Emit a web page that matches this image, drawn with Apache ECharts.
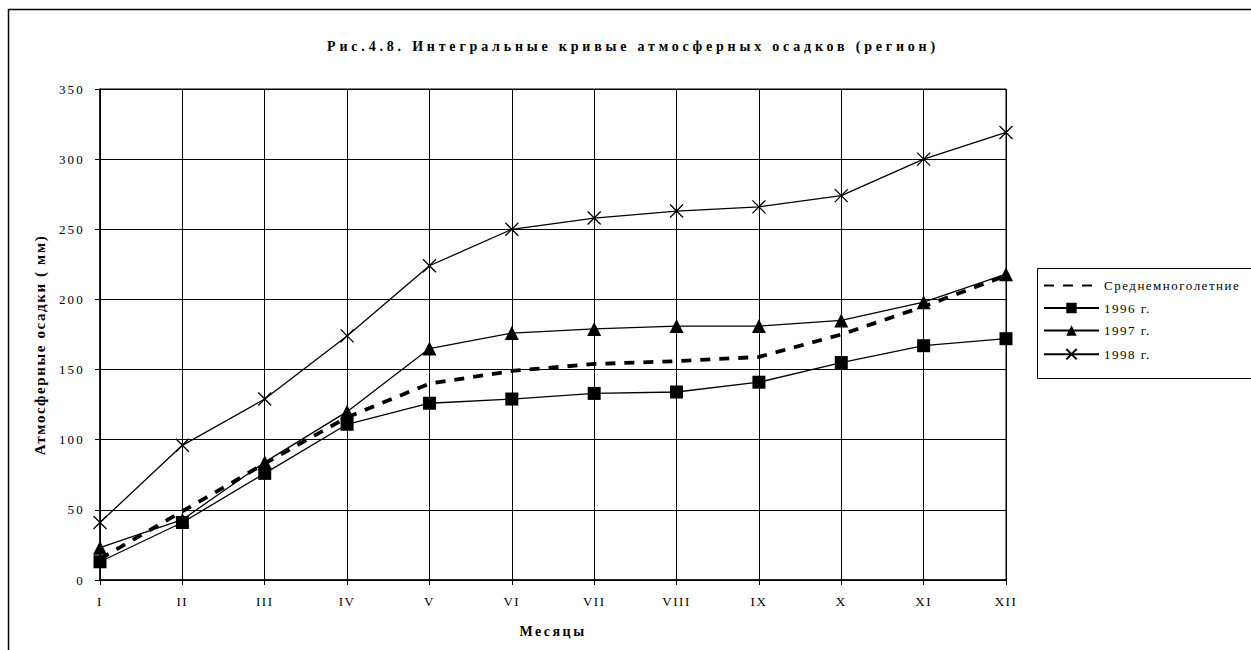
<!DOCTYPE html>
<html>
<head>
<meta charset="utf-8">
<script src="https://cdn.jsdelivr.net/npm/echarts@6/dist/echarts.min.js"></script>
<style>
html,body{margin:0;padding:0;background:#fff;}
#chart{width:1251px;height:650px;}
</style>
</head>
<body>
<div id="chart"></div>
<script>
const months = ['I','II','III','IV','V','VI','VII','VIII','IX','X','XI','XII'];
const avgName = 'Среднемноголетние';
const avgValues = [15, 49, 83, 116, 140, 149, 154, 156, 159, 175, 195, 217];
const s1996Name = '1996 г.';
const s1996 = [13, 41, 76, 111, 126, 129, 133, 134, 141, 155, 167, 172];
const s1997Name = '1997 г.';
const s1997 = [23, 43, 84, 120, 165, 176, 179, 181, 181, 185, 198, 218];
const s1998Name = '1998 г.';
const s1998 = [41, 96, 129, 174, 224, 250, 258, 263, 266, 274, 300, 319];
const titleText = 'Рис.4.8. Интегральные кривые атмосферных осадков (регион)';
const yName = 'Атмосферные осадки ( мм)';
const xName = 'Месяцы';

const FONT = '"Liberation Serif", "Times New Roman", serif';
const chart = echarts.init(document.getElementById('chart'), null, {renderer: 'svg'});

const crossPath = 'path://M0,0L10,10M10,0L0,10';

chart.setOption({
  animation: false,
  backgroundColor: '#fff',
  textStyle: {fontFamily: FONT, color: '#000'},
  graphic: [
    {type: 'rect', shape: {x: 8.5, y: 9.5, width: 1400, height: 800}, style: {fill: 'none', stroke: '#000', lineWidth: 1.5}, silent: true, z: -10},
    {type: 'rect', shape: {x: 1037.5, y: 268.5, width: 300, height: 110}, style: {fill: '#fff', stroke: '#000', lineWidth: 1}, silent: true, z: -5},
    {type: 'text', x: 633, y: 46, style: {text: titleText, fontFamily: FONT, fontSize: 14, fontWeight: 'bold', fill: '#000', align: 'center', verticalAlign: 'middle'}},
    {type: 'text', x: 553, y: 631, style: {text: xName, fontFamily: FONT, fontSize: 14, fontWeight: 'bold', fill: '#000', align: 'center', verticalAlign: 'middle'}},
    {type: 'text', x: 40, y: 345, rotation: Math.PI / 2, style: {text: yName, fontFamily: FONT, fontSize: 15, fontWeight: 'bold', fill: '#000', align: 'center', verticalAlign: 'middle'}}
  ],
  legend: {
    orient: 'vertical',
    left: 1043,
    top: 279,
    padding: 0,
    itemWidth: 55,
    itemHeight: 13,
    itemGap: 9.5,
    textStyle: {fontFamily: FONT, fontSize: 13, color: '#000'},
    data: [{name: avgName, itemStyle: {opacity: 0}}, s1996Name, s1997Name, s1998Name]
  },
  grid: {left: 100, right: 245, top: 89, bottom: 70, show: true, borderColor: '#000', borderWidth: 1},
  xAxis: {
    type: 'category',
    data: months,
    boundaryGap: false,
    axisLine: {lineStyle: {color: '#000', width: 1.5}},
    axisTick: {show: true, alignWithLabel: true, length: 5, lineStyle: {color: '#000'}},
    axisLabel: {fontFamily: FONT, fontSize: 13, color: '#000', margin: 15},
    splitLine: {show: true, lineStyle: {color: '#000', width: 1}}
  },
  yAxis: {
    type: 'value',
    min: 0, max: 350, interval: 50,
    axisLine: {show: true, lineStyle: {color: '#000', width: 1.5}},
    axisTick: {show: true, length: 5, lineStyle: {color: '#000'}},
    axisLabel: {fontFamily: FONT, fontSize: 13, color: '#000', margin: 15},
    splitLine: {show: true, lineStyle: {color: '#000', width: 1}}
  },
  series: [
    {name: s1996Name, type: 'line', data: s1996, symbol: 'rect', symbolSize: 13, z: 3,
     lineStyle: {color: '#000', width: 1.3}, itemStyle: {color: '#000'}},
    {name: s1997Name, type: 'line', data: s1997, symbol: 'triangle', symbolSize: 14, z: 3,
     lineStyle: {color: '#000', width: 1.3}, itemStyle: {color: '#000'}},
    {name: s1998Name, type: 'line', data: s1998, symbol: crossPath, symbolSize: 13, z: 3,
     lineStyle: {color: '#000', width: 1.3}, itemStyle: {color: 'none', borderColor: '#000', borderWidth: 1.3}},
    {name: avgName, type: 'line', data: avgValues, symbol: 'none', z: 4,
     lineStyle: {color: '#000', width: 3.8, type: [10, 9]}, itemStyle: {color: '#000'}}
  ]
});

function applySpacing() {
  document.querySelectorAll('#chart svg text').forEach(t => {
    const s = t.textContent;
    let ls = 2;
    if (s === titleText) ls = 3.8;
    else if (s === xName) ls = 2.5;
    else if (s === yName) ls = 1.6;
    else if (/^\d+$/.test(s)) ls = 2.2;
    else if (months.indexOf(s) >= 0) ls = 1.5;
    else ls = 1.5;
    t.style.letterSpacing = ls + 'px';
  });
}
chart.on('finished', applySpacing);
applySpacing();
setTimeout(applySpacing, 50);
setTimeout(applySpacing, 300);
</script>
</body>
</html>
